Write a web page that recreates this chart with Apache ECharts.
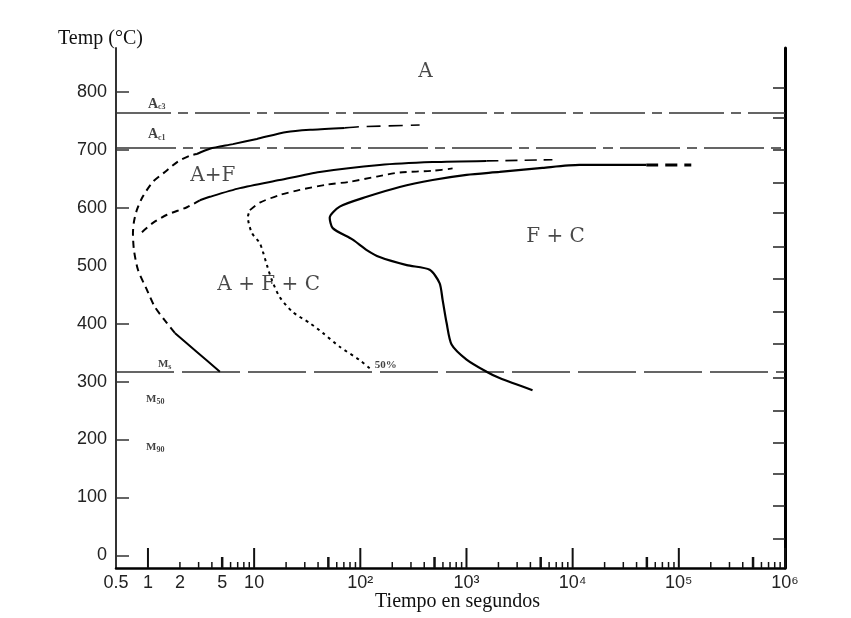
<!DOCTYPE html>
<html><head><meta charset="utf-8">
<script src="https://cdn.jsdelivr.net/npm/echarts@6/dist/echarts.min.js"></script>
<style>html,body{margin:0;padding:0;background:#fff}#c{width:851px;height:618px}</style>
</head><body><div id="c"></div>
<script>
// ---------------- data ----------------
const T_MIN = -22, T_MAX = 876;          // temperature axis range (°C)
const X_MIN = 0.5, X_MAX = 1e6;          // time axis range (s)

const yLabelValues = [0, 100, 200, 300, 400, 500, 600, 700, 800];
const yTickValues  = [0, 100, 200, 300, 400, 600, 700, 800];
const rightTickTemps = [808, 756, 700, 644, 591, 532, 477, 420, 366, 307, 250, 195, 140, 85, 28];

const xLabelValues = [0.5, 1, 2, 5, 10, 100, 1000, 10000, 100000, 1000000];
const xLabelTexts  = ['0.5', '1', '2', '5', '10', '10²', '10³', '10⁴', '10⁵', '10⁶'];
const xDecades   = [1, 10, 100, 1000, 10000, 100000];
const xMantissas = [1, 2, 3, 4, 5, 6, 7, 8, 9];

const AC3 = 764, AC1 = 703, MS = 317;

// curve 1 (ferrite start)
const c1Solid      = [[4.76,317],[2.89,351],[1.79,384]];
const c1Dash       = [[1.79,384],[1.51,401],[1.16,429],[0.98,458],[0.805,493],[0.738,527],[0.722,556],[0.738,576],[0.788,597],[0.897,620],[1.114,645],[1.445,662],[1.915,680],[2.48,690],[2.89,693]];
const c1UpperSolid = [[2.89,693],[3.83,702],[6.31,710],[10.6,719],[20.3,731],[35.6,735],[71.3,738]];
const c1UpperDash  = [[71.3,738],[98.7,740],[362,743]];
// curve 2
const c2Dash  = [[0.878,558],[1.114,574],[1.51,588],[2.33,601],[3.08,613]];
const c2Solid = [[3.08,613],[3.83,619],[7.33,634],[17.4,648],[41.5,662],[152,674],[480,679],[1545,681]];
const c2Tail  = [[1545,681],[6450,683]];
// curve 3 (50 %)
const c3Lower = [[122.5,323],[98.7,337],[64,360],[44.3,384],[33.4,401],[23.1,420],[17.4,446],[14.7,475],[13.2,501],[12.1,524],[11.3,539],[9.5,557],[8.73,584],[9.12,596]];
const c3Upper = [[9.12,596],[11.3,609],[17.4,622],[26.9,631],[48.3,640],[79.5,645],[143,654],[235,661],[480,664],[740,668]];
// curve 4 (finish)
const c4Solid = [[4188,285],[2048,306],[1545,317],[1002,338],[724,364],[650,401],[596,441],[558,470],[450,493],[274,501],[152,515],[115,527],[84.8,545],[55,565],[51.5,583],[64,602],[115,619],[235,636],[480,648],[1002,657],[2048,662],[5200,669],[11590,674],[49400,674]];
const c4Tail  = [[49400,674],[131000,674]];

// annotations: [name, t, T]
const regionLabels = [['A',412,835],['A+F',4.09,655],['F + C',6890,550],['A + F + C',13.7,467]];
const phaseLabels  = [['Ac3',1,779],['Ac1',1,726],['Ms',1.24,330],['M50',0.96,270],['M90',0.96,187],['50%',136.6,329]];

// ---------------- chart ----------------
const serif = '"Liberation Serif", "DejaVu Serif", serif';
const wideSerif = '"DejaVu Serif", "Liberation Serif", serif';
const sans  = '"Liberation Sans", "DejaVu Sans", sans-serif';

const xTickValues = [];
xDecades.forEach(d => xMantissas.forEach(m => xTickValues.push(d * m)));
xTickValues.push(1e6);

function seg(data, dash, width) {
  return {
    type: 'line', data: data, symbol: 'none', showSymbol: false, smooth: 0.25,
    silent: true, animation: false, z: 5,
    lineStyle: { color: '#000', width: width || 2, type: dash || 'solid', cap: 'butt' }
  };
}

const phaseRich = {
  a: { fontFamily: serif, fontSize: 14, fontWeight: 'bold', color: '#111', lineHeight: 16 },
  s: { fontFamily: serif, fontSize: 8, fontWeight: 'bold', color: '#111', lineHeight: 16, padding: [6, 0, 0, 0] },
  m: { fontFamily: serif, fontSize: 11, fontWeight: 'bold', color: '#111', lineHeight: 16 },
  p: { fontFamily: serif, fontSize: 11, fontWeight: 'bold', color: '#111', lineHeight: 16 }
};
function phaseText(name) {
  if (name.startsWith('Ac')) return '{a|A}{s|' + name.slice(1) + '}';
  if (name.startsWith('M')) return '{m|M}{s|' + name.slice(1) + '}';
  return '{p|' + name + '}';
}

const annotationData = [];
regionLabels.forEach(r => annotationData.push({
  value: [r[1], r[2]],
  label: { show: true, position: 'inside', align: 'center', verticalAlign: 'middle',
           formatter: r[0], fontFamily: wideSerif, fontSize: 20, color: '#1a1a1a' }
}));
phaseLabels.forEach(r => annotationData.push({
  value: [r[1], r[2]],
  label: { show: true, position: 'inside', align: 'left', verticalAlign: 'middle',
           formatter: phaseText(r[0]), rich: phaseRich }
}));

const option = {
  animation: false,
  backgroundColor: '#fff',
  grid: { left: 116, right: 66, top: 48, bottom: 50, containLabel: false, outerBoundsMode: 'none' },
  xAxis: {
    type: 'log', logBase: 10, min: X_MIN, max: X_MAX,
    axisLine: { show: true, onZero: false, lineStyle: { color: '#000', width: 2.5 } },
    axisTick: { show: false }, axisLabel: { show: false },
    splitLine: { show: false }, minorTick: { show: false },
    name: 'Tiempo en segundos', nameLocation: 'middle', nameGap: 24,
    nameTextStyle: { fontFamily: serif, fontSize: 20, color: '#111', verticalAlign: 'top', padding: [0, 0, 0, 14] }
  },
  yAxis: [{
    type: 'value', min: T_MIN, max: T_MAX, position: 'left',
    axisLine: { show: true, onZero: false, lineStyle: { color: '#333', width: 2 } },
    axisTick: { show: true, inside: true, length: 13, customValues: yTickValues, lineStyle: { color: '#333', width: 1.5 } },
    axisLabel: { show: true, customValues: yLabelValues, margin: 9, fontFamily: sans, fontSize: 18, color: '#222' },
    splitLine: { show: false }
  }, {
    type: 'value', min: T_MIN, max: T_MAX, position: 'right', alignTicks: false,
    axisLine: { show: true, onZero: false, lineStyle: { color: '#000', width: 3 } },
    axisTick: { show: true, inside: true, length: 12, customValues: rightTickTemps, lineStyle: { color: '#222', width: 1.5 } },
    axisLabel: { show: false },
    splitLine: { show: false }
  }],
  graphic: [{
    type: 'text', left: 58, top: 29,
    style: { text: 'Temp (°C)', font: '20px ' + serif, fill: '#111' }
  }],
  series: [
    {
      type: 'line', data: [], silent: true, animation: false,
      markLine: {
        symbol: 'none', silent: true, animation: false, label: { show: false },
        data: [
          { yAxis: AC3, lineStyle: { color: '#333', width: 1.5, type: [55, 7, 10, 7] } },
          { yAxis: AC1, lineStyle: { color: '#333', width: 1.5, type: [60, 7, 10, 7] } },
          { yAxis: MS,  lineStyle: { color: '#333', width: 1.5, type: [58, 8] } }
        ]
      }
    },
    seg(c1Solid, 'solid', 2),
    seg(c1Dash, [7, 5], 2),
    seg(c1UpperSolid, 'solid', 2),
    seg(c1UpperDash, [14, 8], 1.6),
    seg(c2Dash, [7, 5], 2),
    seg(c2Solid, 'solid', 2),
    seg(c2Tail, [12, 7], 1.6),
    seg(c3Lower, [3, 4], 2),
    seg(c3Upper, [7, 5], 1.8),
    seg(c4Solid, 'solid', 2.2),
    seg(c4Tail, [12, 7], 3),
    {
      type: 'custom', coordinateSystem: 'cartesian2d', silent: true, animation: false, clip: false, z: 6,
      data: xTickValues.map(v => [v, T_MIN]),
      encode: { x: 0, y: 1 },
      renderItem: function (params, api) {
        const v = api.value(0);
        const p = api.coord([v, T_MIN]);
        const m = Math.round(v / Math.pow(10, Math.floor(Math.log10(v) + 1e-9)));
        let len = 6, w = 1.5;
        if (m === 1) { len = 20; w = 2; }
        else if (m === 5) { len = 11; w = 2.5; }
        return { type: 'line', shape: { x1: p[0], y1: p[1], x2: p[0], y2: p[1] - len },
                 style: { stroke: '#111', lineWidth: w } };
      }
    },
    {
      type: 'custom', coordinateSystem: 'cartesian2d', silent: true, animation: false, clip: false, z: 6,
      data: xLabelValues.map((v, i) => [v, T_MIN, i]),
      encode: { x: 0, y: 1 },
      renderItem: function (params, api) {
        const v = api.value(0);
        const i = api.value(2);
        const p = api.coord([v, T_MIN]);
        return { type: 'text', x: p[0], y: p[1] + 15,
                 style: { text: xLabelTexts[i], align: 'center', verticalAlign: 'middle',
                          fontFamily: sans, fontSize: 18, fill: '#222' } };
      }
    },
    {
      type: 'scatter', symbolSize: 0, silent: true, animation: false, z: 7,
      data: annotationData
    }
  ]
};

const chart = echarts.init(document.getElementById('c'), null, { renderer: 'canvas' });
chart.setOption(option);
</script>
</body></html>
